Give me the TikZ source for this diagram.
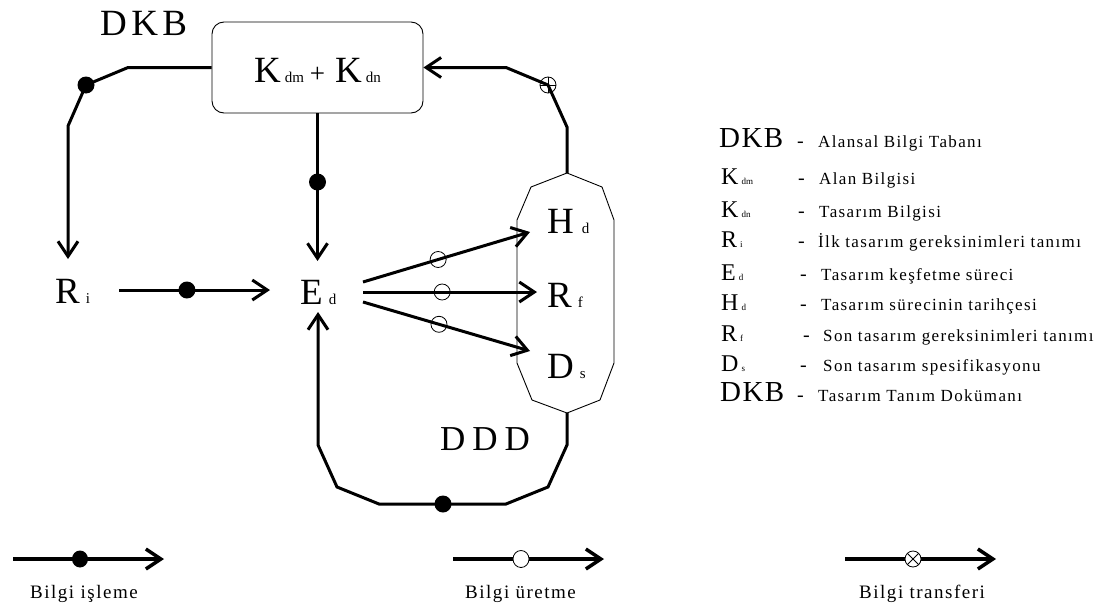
\documentclass[tikz,border=0pt]{standalone}
\usepackage{fontspec}
\setmainfont{Liberation Serif}
\newfontfamily\lsBig[LetterSpace=12]{Liberation Serif}
\newfontfamily\lsDDD[LetterSpace=20]{Liberation Serif}
\newfontfamily\lsSmall[LetterSpace=8]{Liberation Serif}
\newfontfamily\lsLeg[LetterSpace=5]{Liberation Serif}
\usetikzlibrary{arrows.meta,calc}
\newcommand\fs[1]{\fontsize{#1}{#1}\selectfont}
\newcommand\sbA[1]{{\fs{15}#1}}
\newcommand\sbL[1]{{\fs{9}#1}}
\begin{document}
\begin{tikzpicture}[x=1pt,y=-1pt,
  conn/.style={line width=3pt},
  arr/.style={-{Straight Barb[length=15pt,width=20pt]}},
  thinline/.style={line width=0.9pt},
  big/.style={inner sep=0pt,anchor=base west,font=\fs{37}},
  lgsym/.style={inner sep=0pt,anchor=base west,font=\fs{24}},
  lgdash/.style={inner sep=0pt,anchor=base west,font=\fs{20}},
  lgtext/.style={inner sep=0pt,anchor=base west,font=\fs{17}\lsSmall},
  bttext/.style={inner sep=0pt,anchor=base west,font=\fs{19}\lsSmall},
  boxst/.style={draw,thinline,rounded corners=12pt,minimum width=211pt,minimum height=91pt,inner sep=0pt,text height=30pt,font=\fs{37}},
  hollow/.style={line width=0.8pt}
]
\useasboundingbox (0,0) rectangle (1109,608);

% ---------- main nodes ----------
\node[inner sep=0pt,anchor=base west,font=\fs{37}\lsBig] (dkbTop) at (100,35) {DKB};
\node[boxst] (box) at (317.5,67.5) {K\hspace{4pt}\sbA{dm}\hspace{6pt}{\fs{27}+}\hspace{10pt}K\hspace{4pt}\sbA{dn}};
\node[big] (Ri) at (55,303) {R\hspace{6pt}\sbA{i}};
\node[big] (Ed) at (300,304) {E\hspace{6pt}\sbA{d}};
\node[big] (Hd) at (547,233) {H\hspace{8pt}\sbA{d}};
\node[big] (Rf) at (547,307) {R\hspace{6pt}\sbA{f}};
\node[big] (Ds) at (547,378) {D\hspace{6pt}\sbA{s}};
\node[inner sep=0pt,anchor=base west,font=\fs{35}\lsDDD] (ddd) at (440,450) {DDD};

% ---------- octagon (DDD) ----------
\coordinate (octT) at (567,173);
\coordinate (octB) at (567,413);
\draw[thinline] (octT) -- (602,187) -- (614,220) -- (614,363) -- (600,400) -- (octB)
  -- (532,400) -- (517,363) -- (517,220) -- (531,187) -- cycle;

% ---------- connectors ----------
% box -> Ri
\coordinate (a1) at (128,67.5);
\coordinate (a2) at (86,85);
\coordinate (a3) at (68,126);
\draw[conn,arr] (box.west) -- (a1) -- (a2) -- (a3) -- ($(Ri.base west)+(13,-44)$);
\fill (a2) circle (8.5);

% box -> Ed
\coordinate (bEnd) at ($(Ed.base west)+(18,-43)$);
\draw[conn,arr] (box.south) -- (box.south |- bEnd);
\fill (317.5,182) circle (8.5);

% Ri -> Ed
\coordinate (rS) at ($(Ri.base west)+(64,-13)$);
\coordinate (rE) at ($(Ed.base west)+(-30,-14)$);
\draw[conn,arr] (rS) -- (rE);
\fill ($(rS)!0.45!(rE)$) circle (8.5);

% Ed -> Hd, Rf, Ds
\coordinate (e1) at ($(Ed.base west)+(63,-22)$);
\coordinate (e2) at ($(Ed.base west)+(63,-12)$);
\coordinate (e3) at ($(Ed.base west)+(63,-2)$);
\coordinate (h1) at ($(Hd.base west)+(-17,-1)$);
\coordinate (h2) at ($(Rf.base west)+(-10,-15)$);
\coordinate (h3) at ($(Ds.base west)+(-17,-27)$);
\draw[conn,arr] (e1) -- (h1);
\draw[conn,arr] (e2) -- (h2);
\draw[conn,arr] (e3) -- (h3);
\draw[hollow] ($(e1)!0.45!(h1)$) circle (8);
\draw[hollow] ($(e2)!0.455!(h2)$) circle (8);
\draw[hollow] ($(e3)!0.455!(h3)$) circle (8);

% DDD -> box (transfer)
\coordinate (t1) at (567,127);
\coordinate (t2) at (548,85);
\coordinate (t3) at (506,67.5);
\draw[conn,arr] (octT) -- (t1) -- (t2) -- (t3) -- (box.east);
\draw[hollow] (t2) circle (8);
\draw[hollow] ($(t2)+(-8,0)$) -- ($(t2)+(8,0)$);
\draw[hollow] ($(t2)+(0,-8)$) -- ($(t2)+(0,8)$);

% DDD -> Ed (processing)
\coordinate (d1) at (567,445);
\coordinate (d2) at (548,487);
\coordinate (d3) at (506,504);
\coordinate (d4) at (379,504);
\coordinate (d5) at (337,487);
\coordinate (d6) at (318,445);
\coordinate (dEnd) at ($(Ed.base west)+(18,8)$);
\draw[conn,arr] (octB) -- (d1) -- (d2) -- (d3) -- (d4) -- (d5) -- (d6) -- (dEnd);
\fill (443,504) circle (8.5);

% ---------- right legend ----------
\node[inner sep=0pt,anchor=base west,font=\fs{29}\lsLeg] (l1s) at (719,147) {DKB};
\node[lgdash] (l1d) at (797,147) {-};
\node[lgtext] (l1t) at (818,147) {Alansal Bilgi Tabanı};

\node[lgsym] (l2s) at (721,184) {K\hspace{3pt}\sbL{dm}};
\node[lgdash] (l2d) at (798,184) {-};
\node[lgtext] (l2t) at (819,184) {Alan Bilgisi};

\node[lgsym] (l3s) at (721,217) {K\hspace{3pt}\sbL{dn}};
\node[lgdash] (l3d) at (798,217) {-};
\node[lgtext] (l3t) at (819,217) {Tasarım Bilgisi};

\node[lgsym] (l4s) at (721,247) {R\hspace{3pt}\sbL{i}};
\node[lgdash] (l4d) at (798,247) {-};
\node[lgtext] (l4t) at (818,247) {İlk tasarım gereksinimleri tanımı};

\node[lgsym] (l5s) at (721,280) {E\hspace{3pt}\sbL{d}};
\node[lgdash] (l5d) at (800,280) {-};
\node[lgtext] (l5t) at (821,280) {Tasarım keşfetme süreci};

\node[lgsym] (l6s) at (721,310) {H\hspace{3pt}\sbL{d}};
\node[lgdash] (l6d) at (800,310) {-};
\node[lgtext] (l6t) at (821,310) {Tasarım sürecinin tarihçesi};

\node[lgsym] (l7s) at (721,341) {R\hspace{3pt}\sbL{f}};
\node[lgdash] (l7d) at (803,341) {-};
\node[lgtext] (l7t) at (823,341) {Son tasarım gereksinimleri tanımı};

\node[lgsym] (l8s) at (721,371) {D\hspace{3pt}\sbL{s}};
\node[lgdash] (l8d) at (800,371) {-};
\node[lgtext] (l8t) at (823,371) {Son tasarım spesifikasyonu};

\node[inner sep=0pt,anchor=base west,font=\fs{29}\lsLeg] (l9s) at (720,401) {DKB};
\node[lgdash] (l9d) at (797,401) {-};
\node[lgtext] (l9t) at (818,401) {Tasarım Tanım Dokümanı};

% ---------- bottom legend ----------
\coordinate (p1s) at (13,559);
\coordinate (p1e) at (164,559);
\draw[line width=3.5pt,arr] (p1s) -- (p1e);
\fill (80,559) ellipse (8 and 8.5);
\node[bttext] (b1) at (30,598) {Bilgi işleme};

\coordinate (p2s) at (453,559);
\coordinate (p2e) at (604,559);
\draw[line width=3.5pt,arr] (p2s) -- (p2e);
\filldraw[hollow,fill=white] (521,559) ellipse (8 and 8.5);
\node[bttext] (b2) at (465,598) {Bilgi üretme};

\coordinate (p3s) at (845,559);
\coordinate (p3e) at (996,559);
\coordinate (p3m) at (913,559);
\draw[line width=3.5pt,arr] (p3s) -- (p3e);
\filldraw[hollow,fill=white] (p3m) circle (8);
\draw[hollow] ($(p3m)+(-5.6,-5.6)$) -- ($(p3m)+(5.6,5.6)$);
\draw[hollow] ($(p3m)+(-5.6,5.6)$) -- ($(p3m)+(5.6,-5.6)$);
\node[bttext] (b3) at (859,598) {Bilgi transferi};
\end{tikzpicture}
\end{document}
